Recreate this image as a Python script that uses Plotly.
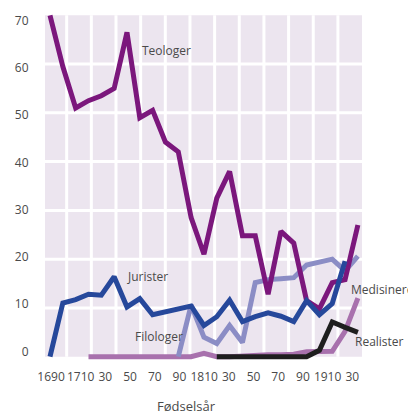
import plotly.graph_objects as go

# ---------------- data ----------------
decades = list(range(1690, 1940, 10))  # 1690 ... 1930

teologer_start = 1690
teologer = [70, 59.5, 51, 52.5, 53.5, 55, 66.5, 49, 50.5, 44, 42, 28.5, 21,
            32.5, 38, 24.8, 24.8, 12.8, 25.7, 23.3, 11.5, 9.8, 15.2, 15.8, 27]

jurister_start = 1690
jurister = [0, 11, 11.7, 12.8, 12.6, 16.4, 10.2, 11.9, 8.6, 9.2, 9.6, 10.4,
            6.4, 8.2, 11.6, 7.2, 8.2, 9, 8.3, 7.2, 11.5, 8.6, 10.9, 19.6]

filologer_start = 1790
filologer = [0, 10.6, 4, 2.7, 6.4, 2.9, 15.2, 15.8, 16, 16.2, 18.8, 19.3,
             20, 17.6, 20.6]

medisinere_start = 1720
medisinere = [0, 0, 0, 0, 0, 0, 0, 0, 0, 0.7, 0, 0, 0.2, 0.4, 0.4, 0.4, 0.5,
              1, 1.1, 1.1, 5.2, 12]

realister_start = 1820
realister = [0, 0, 0, 0, 0, 0, 0, 0, 1.3, 7.1, 6, 5]

x_tick_labels = ["1690", "1710", "30", "50", "70", "90", "1810", "30", "50",
                 "70", "90", "1910", "30"]
y_tick_labels = ["0", "10", "20", "30", "40", "50", "60", "70"]

series = [
    ("Medisinere", medisinere_start, medisinere, "#A871AD"),
    ("Filologer", filologer_start, filologer, "#8B8DC5"),
    ("Teologer", teologer_start, teologer, "#7B177C"),
    ("Jurister", jurister_start, jurister, "#26489B"),
    ("Realister", realister_start, realister, "#1E1E1E"),
]

# ---------------- figure ----------------
fig = go.Figure()

for name, start, vals, color in series:
    i0 = decades.index(start)
    xs = decades[i0:i0 + len(vals)]
    fig.add_trace(go.Scatter(x=xs, y=vals, mode="lines", name=name,
                             line=dict(color=color, width=5),
                             showlegend=False, hoverinfo="skip"))

X0, X1 = 1686.1, 1933.2
Y0, Y1 = 0, 70
BG = "#ECE5EF"

shapes = [dict(type="rect", xref="x", yref="y", x0=X0, x1=X1, y0=Y0, y1=Y1,
               fillcolor=BG, line=dict(width=0), layer="below")]
# vertical white grid lines
for k in range(12):
    gx = 1703.0 + 19.22 * k
    shapes.append(dict(type="line", xref="x", yref="y", x0=gx, x1=gx, y0=Y0, y1=Y1,
                       line=dict(color="white", width=3), layer="below"))
# horizontal white grid lines
for v in range(10, 70, 10):
    shapes.append(dict(type="line", xref="x", yref="y", x0=X0, x1=X1, y0=v, y1=v,
                       line=dict(color="white", width=3), layer="below"))

# tick label positions (layout)
x_tickvals = [1690.8] + [1713.9 + 19.25 * k for k in range(12)]
y_tickvals = [1.086 + 0.9692 * int(t) for t in y_tick_labels]

FONT = "Open Sans"
TXT = "#4a4a4a"

annots = [
    dict(text="Teologer", x=1760.1, y=62.7),
    dict(text="Jurister", x=1748.5, y=16.5),
    dict(text="Filologer", x=1754.5, y=4.2),
    dict(text="Medisinere", x=1923.3, y=13.7),
    dict(text="Realister", x=1926.4, y=3.1),
]
annotations = [dict(text=a["text"], x=a["x"], y=a["y"], xref="x", yref="y",
                    xanchor="left", yanchor="middle", showarrow=False,
                    font=dict(family=FONT, size=12, color=TXT)) for a in annots]
annotations.append(dict(text="Fødselsår", x=0.4464, y=-0.118, xref="paper",
                        yref="paper", xanchor="center", yanchor="middle",
                        showarrow=False, font=dict(family=FONT, size=13, color=TXT)))

fig.update_layout(
    width=408, height=414,
    margin=dict(l=45, r=46, t=8, b=50),
    paper_bgcolor="white", plot_bgcolor="white",
    shapes=shapes, annotations=annotations,
    font=dict(family=FONT, size=12, color=TXT),
    xaxis=dict(range=[X0, X1], showgrid=False, zeroline=False, showline=False,
               tickmode="array", tickvals=x_tickvals, ticktext=x_tick_labels,
               tickangle=0, ticks="outside", ticklen=2,
               tickcolor="rgba(0,0,0,0)", tickfont=dict(family=FONT, size=12, color=TXT),
               fixedrange=True),
    yaxis=dict(range=[-1.5, 71.5], showgrid=False, zeroline=False, showline=False,
               tickmode="array", tickvals=y_tickvals, ticktext=y_tick_labels,
               ticks="outside", ticklen=13, tickcolor="rgba(0,0,0,0)",
               tickfont=dict(family=FONT, size=12, color=TXT), fixedrange=True),
)

fig.write_html("out.html",
               config={"displayModeBar": False},
               post_script="document.body.style.margin='0';document.body.style.padding='0';document.body.style.overflow='hidden';")
